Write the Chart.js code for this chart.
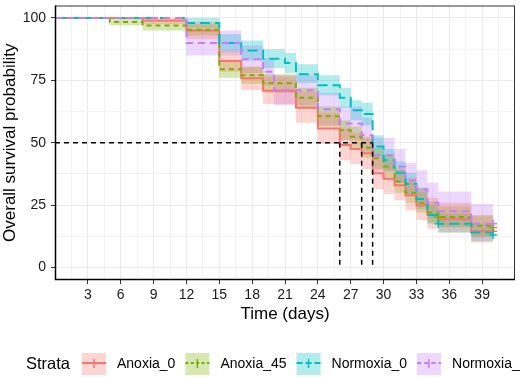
<!DOCTYPE html>
<html>
<head>
<meta charset="utf-8">
<script src="https://cdn.jsdelivr.net/npm/chart.js@4.4.1/dist/chart.umd.min.js"></script>
<style>
html, body { margin: 0; padding: 0; background: #fff; }
</style>
</head>
<body>
<canvas id="lienzo" width="526" height="377"></canvas>
<script>
// strata
const estratos = ['Anoxia_0', 'Anoxia_45', 'Normoxia_0', 'Normoxia_']
const colores = ['#F8766D', '#7CAE00', '#00BFC4', '#C77CFF']
const rellenos = ['rgba(248,118,109,0.3)', 'rgba(124,174,0,0.3)', 'rgba(0,191,196,0.3)', 'rgba(199,124,255,0.3)']
const guiones = [[], [5, 4], [10, 5], [7, 5]]

// Anoxia_0
const tiempoA0 = [0, 8, 12, 15, 17, 19, 22, 24, 26, 27, 28, 29, 30, 31, 32, 33, 34, 35, 38, 40]
const survA0 = [100, 99, 95, 82.8, 75.8, 70.8, 64, 55.7, 49.1, 47.5, 45.8, 37.8, 35.6, 33, 29, 25, 21, 19.3, 14.5, 14.5]
const bajoA0 = [100, 97.5, 91.5, 78.5, 71, 65.5, 58, 49.5, 43, 41.5, 39.5, 31.5, 29.5, 27, 23, 19, 15.5, 14, 10, 10]
const altoA0 = [100, 100, 98.5, 87, 80.5, 76.5, 70.5, 62, 56, 54, 52.5, 44.5, 42.5, 40, 36, 32, 28, 26, 20.5, 20.5]

// Anoxia_45
const tiempoA45 = [0, 5, 8, 12, 15, 17, 19, 22, 24, 26, 27, 28, 29, 30, 31, 32, 33, 34, 35, 38, 40]
const survA45 = [100, 98.4, 97, 95.3, 79.5, 77, 73.8, 68, 60.6, 55, 52.4, 48, 43.8, 40.5, 34.5, 30, 26, 22, 20.2, 16.7, 16]
const bajoA45 = [100, 97, 95, 93, 76, 73.5, 70, 64, 56.5, 51, 48, 44, 39.5, 36, 30, 26, 22, 18, 16, 12.5, 12]
const altoA45 = [100, 100, 99, 97.5, 83, 80.5, 77.5, 72, 64.5, 59, 56.5, 52, 48, 45, 39, 34.5, 30.5, 26.5, 24.5, 21, 20.5]

// Normoxia_0
const tiempoN0 = [0, 12, 15, 17, 19, 21, 22, 24, 26, 27, 28, 29, 30, 31, 32, 33, 34, 35, 38, 40]
const survN0 = [100, 98, 90, 87, 83.7, 82, 77.5, 73, 68, 63, 61.5, 48.5, 43, 38, 33.5, 27.5, 21, 17.5, 14, 13]
const bajoN0 = [100, 96, 86.5, 83, 80, 78, 74, 69, 64, 59, 57, 44.5, 39, 34, 29.5, 23.5, 17.5, 14, 10.5, 9.5]
const altoN0 = [100, 100, 93.5, 91, 87.5, 86, 81.5, 77, 72, 67, 66, 53, 47.5, 42.5, 38, 32, 25, 21.5, 17.5, 16.5]

// Normoxia_45
const tiempoN45 = [0, 12, 17, 19, 20, 24, 26, 28, 29, 31, 32, 33, 34, 35, 38, 40]
const survN45 = [100, 90, 83.5, 78.5, 71, 63.4, 57.7, 53, 45, 40.5, 35, 31.3, 26, 22.6, 17.5, 17.5]
const bajoN45 = [100, 85, 78, 73, 65, 57, 51, 46.5, 38.5, 34, 28.5, 24.5, 19.5, 16.5, 12, 12]
const altoN45 = [100, 95, 89, 84, 77, 70, 64.5, 60, 52, 47.5, 42, 39, 34, 30.5, 25.5, 25.5]

// censored times
const censuraA0 = [40]
const censuraA45 = [35, 40]
const censuraN0 = [35, 40]
const censuraN45 = [40]

const medianas = [26, 28, 29]
const ticksX = [3, 6, 9, 12, 15, 18, 21, 24, 27, 30, 33, 36, 39]
const ticksY = [0, 25, 50, 75, 100]

const curvas = [
    [tiempoA0, survA0, bajoA0, altoA0, censuraA0],
    [tiempoA45, survA45, bajoA45, altoA45, censuraA45],
    [tiempoN0, survN0, bajoN0, altoN0, censuraN0],
    [tiempoN45, survN45, bajoN45, altoN45, censuraN45]
]

const puntos = (xs, ys) => xs.map((x, i) => ({x: x, y: ys[i]}))

const valorEn = (xs, ys, t) => {
    let v = ys[0]
    for (let i = 0; i < xs.length; i++) {
        if (xs[i] <= t) v = ys[i]
    }
    return v
}

let datasets = []

// bands first (drawn below)
curvas.forEach((c, k) => {
    datasets.push({
        data: puntos(c[0], c[2]),
        stepped: 'before', borderColor: 'transparent', borderWidth: 0,
        pointRadius: 0, fill: false, order: 20 + k
    })
    datasets.push({
        data: puntos(c[0], c[3]),
        stepped: 'before', borderColor: 'transparent', borderWidth: 0,
        pointRadius: 0, fill: '-1', backgroundColor: rellenos[k], order: 20 + k
    })
})

curvas.forEach((c, k) => {
    datasets.push({
        data: puntos(c[0], c[1]),
        stepped: 'before', borderColor: colores[k], borderWidth: 2,
        borderDash: guiones[k], pointRadius: 0, fill: false, order: 10 - k
    })
    datasets.push({
        type: 'scatter',
        data: c[4].map(t => ({x: t, y: valorEn(c[0], c[1], t)})),
        pointStyle: 'cross', pointRadius: 4, borderColor: colores[k],
        borderWidth: 1.5, order: 5 - k
    })
})

// median lines
const ultimaMediana = Math.max(...medianas)
datasets.push({
    data: [{x: 0, y: 50}, {x: ultimaMediana, y: 50}],
    borderColor: '#000', borderWidth: 1.5, borderDash: [5, 4], pointRadius: 0, fill: false, order: 0
})
medianas.forEach(m => {
    datasets.push({
        data: [{x: m, y: 50}, {x: m, y: 0}],
        borderColor: '#000', borderWidth: 1.5, borderDash: [5, 4], pointRadius: 0, fill: false, order: 0
    })
})

const fuente = 'Liberation Sans, Arial, Helvetica, sans-serif'
Chart.defaults.font.family = fuente

const marco = {
    id: 'marco',
    afterDraw(chart) {
        const {ctx, chartArea: a} = chart
        ctx.save()
        ctx.strokeStyle = '#333'
        ctx.lineWidth = 1
        ctx.strokeRect(a.left + 0.5, a.top + 0.5, a.right - a.left - 1, a.bottom - a.top - 1)
        ctx.strokeStyle = '#000'
        ctx.lineWidth = 1.5
        ctx.beginPath()
        ctx.moveTo(a.left + 0.5, a.top)
        ctx.lineTo(a.left + 0.5, a.bottom - 0.5)
        ctx.lineTo(a.right, a.bottom - 0.5)
        ctx.stroke()
        ctx.restore()
    }
}

const leyenda = {
    id: 'leyenda',
    afterDraw(chart) {
        const ctx = chart.ctx
        const yc = 364
        ctx.save()
        ctx.fillStyle = '#000'
        ctx.textBaseline = 'middle'
        ctx.font = '16.5px ' + fuente
        ctx.fillText('Strata', 26, yc)
        ctx.font = '14px ' + fuente
        let x = 82
        estratos.forEach((nombre, k) => {
            ctx.fillStyle = rellenos[k]
            ctx.fillRect(x, yc - 11, 24, 22)
            ctx.strokeStyle = colores[k]
            ctx.lineWidth = 2
            ctx.setLineDash(guiones[k].map(g => g * 0.6))
            ctx.beginPath()
            ctx.moveTo(x, yc - 1)
            ctx.lineTo(x + 24, yc - 1)
            ctx.stroke()
            ctx.setLineDash([])
            ctx.lineWidth = 1.5
            ctx.beginPath()
            ctx.moveTo(x + 12, yc - 5)
            ctx.lineTo(x + 12, yc + 4)
            ctx.stroke()
            ctx.fillStyle = '#000'
            ctx.fillText(nombre, x + 35, yc)
            x += 35 + ctx.measureText(nombre).width + 10
        })
        ctx.restore()
    }
}

new Chart(document.getElementById('lienzo'), {
    type: 'line',
    data: {datasets: datasets},
    plugins: [marco, leyenda],
    options: {
        responsive: false,
        animation: false,
        devicePixelRatio: 1,
        layout: {padding: {left: 0, right: 11, top: 2, bottom: 52}},
        plugins: {legend: {display: false}, tooltip: {enabled: false}},
        scales: {
            x: {
                type: 'linear', min: 0, max: 42,
                border: {display: false},
                afterBuildTicks(s) {
                    let t = []
                    for (let v = 1.5; v <= 41; v += 1.5) t.push({value: v})
                    s.ticks = t
                },
                afterFit(s) { s.height = 45; s.paddingLeft = 0; s.paddingRight = 0 },
                grid: {
                    color: c => ticksX.includes(c.tick.value) ? '#EBEBEB' : '#F3F3F3',
                    tickColor: c => ticksX.includes(c.tick.value) ? '#333' : 'rgba(0,0,0,0)',
                    tickLength: 4, lineWidth: 1
                },
                ticks: {
                    autoSkip: false, maxRotation: 0, padding: 3, color: '#1a1a1a',
                    font: {size: 14},
                    callback: v => ticksX.includes(v) ? String(v) : ''
                },
                title: {display: true, text: 'Time (days)', color: '#000', font: {size: 17}, padding: 0}
            },
            y: {
                min: -5, max: 105,
                border: {display: false},
                afterBuildTicks(s) {
                    let t = []
                    for (let v = 0; v <= 100; v += 12.5) t.push({value: v})
                    s.ticks = t
                },
                afterFit(s) { s.width = 55; s.paddingTop = 0; s.paddingBottom = 0 },
                grid: {
                    color: c => ticksY.includes(c.tick.value) ? '#EBEBEB' : '#F3F3F3',
                    tickColor: c => ticksY.includes(c.tick.value) ? '#333' : 'rgba(0,0,0,0)',
                    tickLength: 4, lineWidth: 1
                },
                ticks: {
                    autoSkip: false, padding: 5, color: '#1a1a1a',
                    font: {size: 14},
                    callback: v => ticksY.includes(v) ? String(v) : ''
                },
                title: {display: true, text: 'Overall survival probability', color: '#000', font: {size: 17}, padding: 0}
            }
        }
    }
})
</script>
</body>
</html>
